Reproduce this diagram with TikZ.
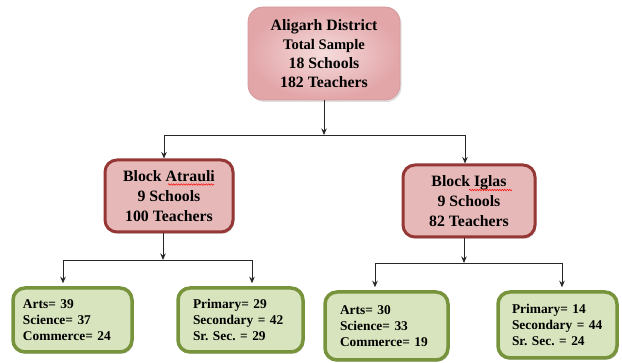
\documentclass[tikz,border=0pt]{standalone}
\usepackage{fontspec}
\setmainfont{Liberation Serif}
\usetikzlibrary{shadows,decorations.pathmorphing,arrows.meta}
\definecolor{topA}{HTML}{F6DCDC}
\definecolor{topB}{HTML}{E2A5A8}
\definecolor{topline}{HTML}{D49A9C}
\definecolor{blockfill}{HTML}{E6B9B8}
\definecolor{blockline}{HTML}{953735}
\definecolor{leaffill}{HTML}{D7E4BD}
\definecolor{leafline}{HTML}{77933C}
\frenchspacing
\begin{document}
\begin{tikzpicture}[x=1pt,y=-1pt,
  conn/.style={line width=0.9pt, draw=black!85},
  arr/.style={conn,-{Stealth[length=6.5pt,width=5.5pt]}},
  softshadow/.style={drop shadow={shadow xshift=1.5pt, shadow yshift=-2pt, opacity=0.25}},
  topbox/.style={rounded corners=15pt, draw=topline, line width=0.8pt, inner color=topA, outer color=topB,
    minimum width=152pt, minimum height=93pt, inner sep=0pt, align=center,
    font=\bfseries\fontsize{15.8}{19}\selectfont, softshadow},
  blockbox/.style={rounded corners=12pt, draw=blockline, line width=3pt, fill=blockfill, align=center,
    font=\bfseries\fontsize{15.8}{20}\selectfont, inner sep=0pt, softshadow},
  leafbox/.style={rounded corners=12pt, draw=leafline, line width=3.5pt, fill=leaffill, align=left,
    font=\bfseries\fontsize{13.4}{16}\selectfont, inner ysep=0pt, softshadow},
  spell/.style={draw=red, line width=0.5pt, decorate, decoration={snake, amplitude=0.7pt, segment length=2.5pt}}
]
\useasboundingbox (0,0) rectangle (622,363);

\node[topbox] (top) at (324,53.5) {Aligarh District\\{\fontsize{14.6}{19}\selectfont Total Sample}\\18 Schools\\182 Teachers};

\node[blockbox, minimum width=128pt, minimum height=72pt] (atr) at (169,196) {Block Atrauli\\9 Schools\\100 Teachers};
\node[blockbox, minimum width=132pt, minimum height=72pt] (igl) at (469,201) {Block Iglas\\9 Schools\\82 Teachers};

\node[leafbox, text width=99pt, inner xsep=10pt, minimum height=64pt] (g1) at (72.5,320) {\mbox{Arts= 39}\\\mbox{Science= 37}\\\mbox{Commerce= 24}};
\node[leafbox, text width=95pt, inner xsep=15pt, minimum height=64pt] (g2) at (240.5,320) {\mbox{Primary= 29}\\\mbox{Secondary = 42}\\\mbox{Sr. Sec. = 29}};
\node[leafbox, text width=93pt, inner xsep=15pt, minimum height=68pt] (g3) at (386.5,326) {\mbox{Arts= 30}\\\mbox{Science= 33}\\\mbox{Commerce= 19}};
\node[leafbox, text width=91pt, inner xsep=14pt, minimum height=66pt] (g4) at (557.5,325) {\mbox{Primary= 14}\\\mbox{Secondary = 44}\\\mbox{Sr. Sec. = 24}};

% spell-check underlines
\draw[spell] (168,184.5) -- (214,184.5);
\draw[spell] (469,190) -- (512,190);

% level 1 connectors
\coordinate (j0) at (325,135);
\coordinate (jl) at (164,135);
\coordinate (jr) at (465,135);
\draw[arr] (top.south) -- (top.south |- j0);
\draw[conn] (jl) -- (jr);
\draw[arr] (jl) -- (jl |- atr.north);
\draw[arr] (jr) -- (jr |- igl.north);

% level 2 left
\coordinate (ka) at (163,260);
\coordinate (kl) at (63,260);
\coordinate (kr) at (252,260);
\draw[arr] (ka |- atr.south) -- (ka);
\draw[conn] (kl) -- (kr);
\draw[arr, shorten >=3pt] (kl) -- (kl |- g1.north);
\draw[arr, shorten >=3pt] (kr) -- (kr |- g2.north);

% level 2 right
\coordinate (kb) at (464,263);
\coordinate (kc) at (375,263);
\coordinate (kd) at (562,263);
\draw[arr] (kb |- igl.south) -- (kb);
\draw[conn] (kc) -- (kd);
\draw[arr, shorten >=3pt] (kc) -- (kc |- g3.north);
\draw[arr, shorten >=3pt] (kd) -- (kd |- g4.north);
\end{tikzpicture}
\end{document}
